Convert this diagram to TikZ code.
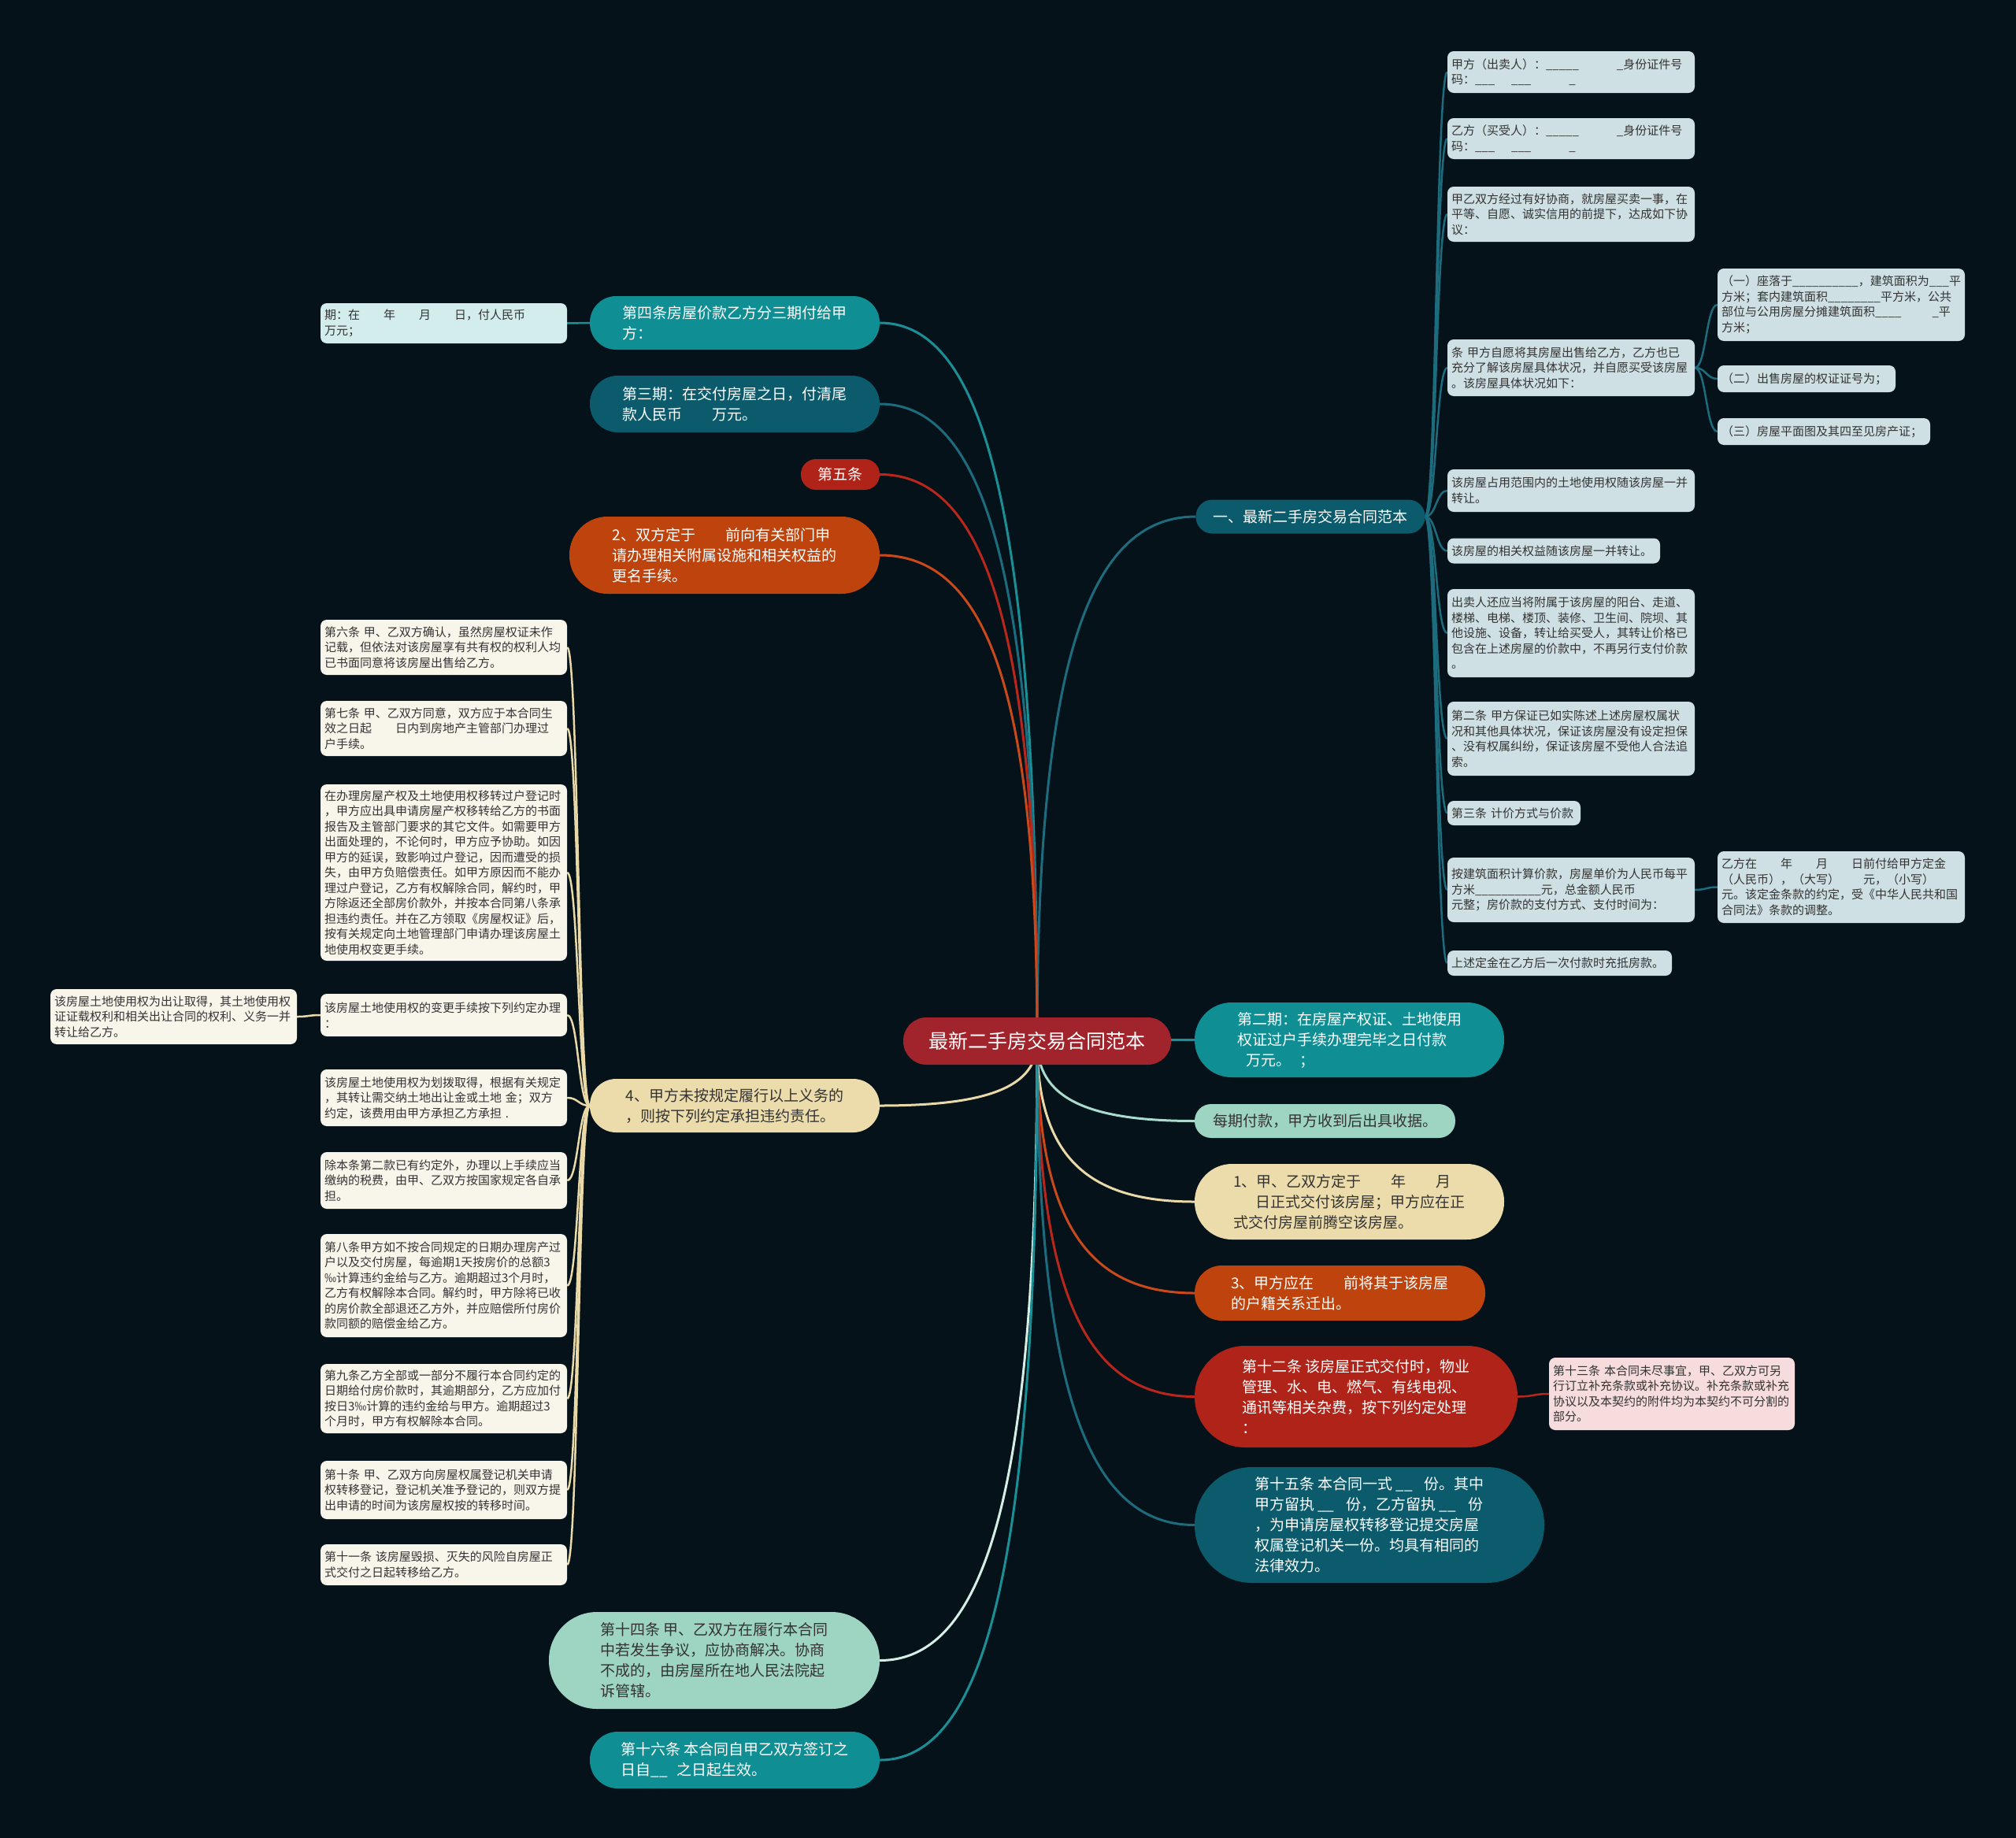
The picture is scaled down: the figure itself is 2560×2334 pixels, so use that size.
\documentclass[tikz,border=0pt]{standalone}
\usepackage{fontspec}
\setmainfont{Noto Sans CJK SC}
\usetikzlibrary{calc,backgrounds}
\definecolor{bgc}{HTML}{051219}
\definecolor{cRoot}{HTML}{A1232B}
\definecolor{cTeal}{HTML}{0F8F94}
\definecolor{cDteal}{HTML}{0C5B6C}
\definecolor{cRed}{HTML}{AF2318}
\definecolor{cOrange}{HTML}{BF430D}
\definecolor{cBeige}{HTML}{ECDCAB}
\definecolor{cMint}{HTML}{9DD4C2}
\definecolor{cLeafB}{HTML}{CFE0E4}
\definecolor{cLeafC}{HTML}{D3ECEC}
\definecolor{cLeafW}{HTML}{F8F5EB}
\definecolor{cLeafP}{HTML}{F6DCDC}
\definecolor{txtdark}{HTML}{333333}
\definecolor{eTeal}{HTML}{1A9096}
\definecolor{eDteal}{HTML}{1C6C7D}
\definecolor{eRed}{HTML}{B8261C}
\definecolor{eOrange}{HTML}{C9491A}
\definecolor{eBeige}{HTML}{E9D9A9}
\definecolor{eMint}{HTML}{A9DCCE}
\definecolor{eWhite}{HTML}{D6EFE6}
\newcommand\hgap[1]{\kern#1em\relax}
\newcommand\rootedge[2]{\draw[rootline,#1] let \p1=(root.center), \p2=(#2) in (\p1) .. controls (\x1,{\y1+0.7*((\y2)-(\y1))}) and ({\x1+0.3*((\x2)-(\x1))},\y2) .. (\p2);}
\newcommand\branchedge[3]{\draw[branchline,#1] let \p1=(#2), \p2=(#3) in (\p1) .. controls ({0.5*\x1+0.5*\x2},\y1) and ({0.5*\x1+0.5*\x2},\y2) .. (\p2);}
\begin{document}
\begin{tikzpicture}[x=1pt,y=-1pt,
  lvone/.style={inner sep=0pt, align=left, font=\fontsize{19}{26}\selectfont, text=white},
  leaf/.style={inner xsep=5pt, inner ysep=0pt, align=left, font=\fontsize{15}{19.5}\selectfont, text=txtdark, rounded corners=8pt},
  rootline/.style={line width=3pt},
  branchline/.style={line width=2.5pt}]
\useasboundingbox (0,0) rectangle (2560,2334);

% root
\node[lvone, fill=cRoot, font=\fontsize{25}{30}\selectfont, minimum width=340pt, minimum height=60pt, rounded corners=29.5pt] (root) at (1317,1322) {最新二手房交易合同范本};

% right level one
\node[lvone, fill=cDteal, minimum width=291pt, minimum height=43pt, rounded corners=21pt] (n1) at (1664,656) {一、最新二手房交易合同范本};
\node[lvone, fill=cTeal, minimum width=393pt, minimum height=95pt, rounded corners=47pt] (n2) at (1713.5,1320.5) {第二期：在房屋产权证、土地使用\\权证过户手续办理完毕之日付款\\\hgap{0.6}万元。\hgap{0.6}；};
\node[lvone, fill=cMint, text=txtdark, minimum width=331pt, minimum height=43pt, rounded corners=21pt] (n3) at (1682.5,1423.5) {每期付款，甲方收到后出具收据。};
\node[lvone, fill=cBeige, text=txtdark, minimum width=393pt, minimum height=96pt, rounded corners=47.5pt] (n4) at (1713.5,1526) {1、甲、乙双方定于\hgap{2}年\hgap{2}月\\\hgap{1.5}日正式交付该房屋；甲方应在正\\式交付房屋前腾空该房屋。};
\node[lvone, fill=cOrange, minimum width=369pt, minimum height=70pt, rounded corners=34.5pt] (n5) at (1701.5,1642) {3、甲方应在\hgap{2}前将其于该房屋\\的户籍关系迁出。};
\node[lvone, fill=cRed, minimum width=410pt, minimum height=129pt, rounded corners=64pt] (n6) at (1722,1773.5) {第十二条 该房屋正式交付时，物业\\管理、水、电、燃气、有线电视、\\通讯等相关杂费，按下列约定处理\\：};
\node[lvone, fill=cDteal, minimum width=444pt, minimum height=147pt, rounded corners=73pt] (n7) at (1739,1936.5) {第十五条 本合同一式 \_\_\hgap{0.8}份。其中\\甲方留执 \_\_\hgap{0.8}份，乙方留执 \_\_\hgap{0.8}份\\，为申请房屋权转移登记提交房屋\\权属登记机关一份。均具有相同的\\法律效力。};
\node[leaf, fill=cLeafP, text width=302pt, minimum height=92pt] (n6a) at (2123,1770) {第十三条 本合同未尽事宜，甲、乙双方可另\\行订立补充条款或补充协议。补充条款或补充\\协议以及本契约的附件均为本契约不可分割的\\部分。};

% right leaves
\node[leaf, fill=cLeafB, text width=304pt, minimum height=53pt] (r1) at (1995,91.5) {甲方（出卖人）：\_\_\_\_\_\hgap{3.2}\_身份证件号\\码：\_\_\_\hgap{1.4}\_\_\_\hgap{3.2}\_};
\node[leaf, fill=cLeafB, text width=304pt, minimum height=52pt] (r2) at (1995,176) {乙方（买受人）：\_\_\_\_\_\hgap{3.2}\_身份证件号\\码：\_\_\_\hgap{1.4}\_\_\_\hgap{3.2}\_};
\node[leaf, fill=cLeafB, text width=304pt, minimum height=70pt] (r3) at (1995,272) {甲乙双方经过有好协商，就房屋买卖一事，在\\平等、自愿、诚实信用的前提下，达成如下协\\议：};
\node[leaf, fill=cLeafB, text width=304pt, minimum height=72pt] (r4) at (1995,467) {条 甲方自愿将其房屋出售给乙方，乙方也已\\充分了解该房屋具体状况，并自愿买受该房屋\\。该房屋具体状况如下：};
\node[leaf, fill=cLeafB, text width=304pt, minimum height=92pt] (r4a) at (2338,387) {（一）座落于\_\_\_\_\_\_\_\_\_\_，建筑面积为\_\_\_平\\方米；套内建筑面积\_\_\_\_\_\_\_\_平方米，公共\\部位与公用房屋分摊建筑面积\_\_\_\_\hgap{2.6}\_平\\方米；};
\node[leaf, fill=cLeafB, text width=216pt, minimum height=34pt] (r4b) at (2294,481) {（二）出售房屋的权证证号为；};
\node[leaf, fill=cLeafB, text width=260pt, minimum height=34pt] (r4c) at (2316,548) {（三）房屋平面图及其四至见房产证；};
\node[leaf, fill=cLeafB, text width=304pt, minimum height=54pt] (r5) at (1995,623) {该房屋占用范围内的土地使用权随该房屋一并\\转让。};
\node[leaf, fill=cLeafB, text width=260pt, minimum height=32pt] (r6) at (1973,699.5) {该房屋的相关权益随该房屋一并转让。};
\node[leaf, fill=cLeafB, text width=304pt, minimum height=112pt] (r7) at (1995,804) {出卖人还应当将附属于该房屋的阳台、走道、\\楼梯、电梯、楼顶、装修、卫生间、院坝、其\\他设施、设备，转让给买受人，其转让价格已\\包含在上述房屋的价款中，不再另行支付价款\\。};
\node[leaf, fill=cLeafB, text width=304pt, minimum height=94pt] (r8) at (1995,938) {第二条 甲方保证已如实陈述上述房屋权属状\\况和其他具体状况，保证该房屋没有设定担保\\、没有权属纠纷，保证该房屋不受他人合法追\\索。};
\node[leaf, fill=cLeafB, text width=159pt, minimum height=31pt] (r9) at (1922.5,1032.5) {第三条 计价方式与价款};
\node[leaf, fill=cLeafB, text width=304pt, minimum height=82pt] (r10) at (1995,1130) {按建筑面积计算价款，房屋单价为人民币每平\\方米\_\_\_\_\_\_\_\_\_\_元，总金额人民币\\元整；房价款的支付方式、支付时间为：};
\node[leaf, fill=cLeafB, text width=304pt, minimum height=91pt] (r10a) at (2338,1126.5) {乙方在\hgap{2}年\hgap{2}月\hgap{2}日前付给甲方定金\\（人民币），（大写）\hgap{2}元，（小写）\\元。该定金条款的约定，受《中华人民共和国\\合同法》条款的调整。};
\node[leaf, fill=cLeafB, text width=275pt, minimum height=32pt] (r11) at (1980.5,1223) {上述定金在乙方后一次付款时充抵房款。};

% left level one
\node[lvone, fill=cTeal, minimum width=368pt, minimum height=68pt, rounded corners=33.5pt] (m1) at (933,410) {第四条房屋价款乙方分三期付给甲\\方：};
\node[leaf, fill=cLeafC, text width=303pt, minimum height=51pt] (m1a) at (563.5,410.5) {期：在\hgap{2}年\hgap{2}月\hgap{2}日，付人民币\\万元；};
\node[lvone, fill=cDteal, minimum width=368pt, minimum height=72pt, rounded corners=35.5pt] (m2) at (933,513) {第三期：在交付房屋之日，付清尾\\款人民币\hgap{2}万元。};
\node[lvone, fill=cRed, minimum width=100pt, minimum height=39pt, rounded corners=19pt] (m3) at (1067,602.5) {第五条};
\node[lvone, fill=cOrange, minimum width=394pt, minimum height=98pt, rounded corners=48.5pt] (m4) at (920,705) {2、双方定于\hgap{2}前向有关部门申\\请办理相关附属设施和相关权益的\\更名手续。};
\node[lvone, fill=cBeige, text=txtdark, minimum width=368pt, minimum height=68pt, rounded corners=33.5pt] (m5) at (933,1404) {4、甲方未按规定履行以上义务的\\，则按下列约定承担违约责任。};
\node[lvone, fill=cMint, text=txtdark, minimum width=420pt, minimum height=123pt, rounded corners=61pt] (m6) at (907,2108.5) {第十四条 甲、乙双方在履行本合同\\中若发生争议，应协商解决。协商\\不成的，由房屋所在地人民法院起\\诉管辖。};
\node[lvone, fill=cTeal, minimum width=368pt, minimum height=72pt, rounded corners=35.5pt] (m7) at (933,2235) {第十六条 本合同自甲乙双方签订之\\日自\_\_\hgap{0.6}之日起生效。};

% left leaves
\node[leaf, fill=cLeafW, text width=303pt, minimum height=70pt] (l1) at (563.5,822) {第六条 甲、乙双方确认，虽然房屋权证未作\\记载，但依法对该房屋享有共有权的权利人均\\已书面同意将该房屋出售给乙方。};
\node[leaf, fill=cLeafW, text width=303pt, minimum height=70pt] (l2) at (563.5,925) {第七条 甲、乙双方同意，双方应于本合同生\\效之日起\hgap{2}日内到房地产主管部门办理过\\户手续。};
\node[leaf, fill=cLeafW, text width=303pt, minimum height=224pt] (l3) at (563.5,1108) {在办理房屋产权及土地使用权移转过户登记时\\，甲方应出具申请房屋产权移转给乙方的书面\\报告及主管部门要求的其它文件。如需要甲方\\出面处理的，不论何时，甲方应予协助。如因\\甲方的延误，致影响过户登记，因而遭受的损\\失，由甲方负赔偿责任。如甲方原因而不能办\\理过户登记，乙方有权解除合同，解约时，甲\\方除返还全部房价款外，并按本合同第八条承\\担违约责任。并在乙方领取《房屋权证》后，\\按有关规定向土地管理部门申请办理该房屋土\\地使用权变更手续。};
\node[leaf, fill=cLeafW, text width=303pt, minimum height=54pt] (l4) at (563.5,1289) {该房屋土地使用权的变更手续按下列约定办理\\：};
\node[leaf, fill=cLeafW, text width=303pt, minimum height=70pt] (l4a) at (220.5,1291) {该房屋土地使用权为出让取得，其土地使用权\\证证载权利和相关出让合同的权利、义务一并\\转让给乙方。};
\node[leaf, fill=cLeafW, text width=303pt, minimum height=72pt] (l5) at (563.5,1394) {该房屋土地使用权为划拨取得，根据有关规定\\，其转让需交纳土地出让金或土地 金；双方\\约定，该费用由甲方承担乙方承担 .};
\node[leaf, fill=cLeafW, text width=303pt, minimum height=72pt] (l6) at (563.5,1499) {除本条第二款已有约定外，办理以上手续应当\\缴纳的税费，由甲、乙双方按国家规定各自承\\担。};
\node[leaf, fill=cLeafW, text width=303pt, minimum height=131pt] (l7) at (563.5,1632.5) {第八条甲方如不按合同规定的日期办理房产过\\户以及交付房屋，每逾期1天按房价的总额3\\‰计算违约金给与乙方。逾期超过3个月时，\\乙方有权解除本合同。解约时，甲方除将已收\\的房价款全部退还乙方外，并应赔偿所付房价\\款同额的赔偿金给乙方。};
\node[leaf, fill=cLeafW, text width=303pt, minimum height=88pt] (l8) at (563.5,1776) {第九条乙方全部或一部分不履行本合同约定的\\日期给付房价款时，其逾期部分，乙方应加付\\按日3‰计算的违约金给与甲方。逾期超过3\\个月时，甲方有权解除本合同。};
\node[leaf, fill=cLeafW, text width=303pt, minimum height=74pt] (l9) at (563.5,1892) {第十条 甲、乙双方向房屋权属登记机关申请\\权转移登记，登记机关准予登记的，则双方提\\出申请的时间为该房屋权按的转移时间。};
\node[leaf, fill=cLeafW, text width=303pt, minimum height=52pt] (l10) at (563.5,1987) {第十一条 该房屋毁损、灭失的风险自房屋正\\式交付之日起转移给乙方。};

\begin{scope}[on background layer]
\fill[bgc] (0,0) rectangle (2560,2334);
% root edges
\rootedge{eDteal}{n1.west}
\rootedge{eTeal}{n2.west}
\rootedge{eMint}{n3.west}
\rootedge{eBeige}{n4.west}
\rootedge{eOrange}{n5.west}
\rootedge{eRed}{n6.west}
\rootedge{eDteal}{n7.west}
\rootedge{eTeal}{m1.east}
\rootedge{eDteal}{m2.east}
\rootedge{eRed}{m3.east}
\rootedge{eOrange}{m4.east}
\rootedge{eBeige}{m5.east}
\rootedge{eWhite}{m6.east}
\rootedge{eTeal}{m7.east}
% branch edges
\branchedge{eDteal}{n1.east}{r1.west}
\branchedge{eDteal}{n1.east}{r2.west}
\branchedge{eDteal}{n1.east}{r3.west}
\branchedge{eDteal}{n1.east}{r4.west}
\branchedge{eDteal}{n1.east}{r5.west}
\branchedge{eDteal}{n1.east}{r6.west}
\branchedge{eDteal}{n1.east}{r7.west}
\branchedge{eDteal}{n1.east}{r8.west}
\branchedge{eDteal}{n1.east}{r9.west}
\branchedge{eDteal}{n1.east}{r10.west}
\branchedge{eDteal}{n1.east}{r11.west}
\branchedge{eDteal}{r4.east}{r4a.west}
\branchedge{eDteal}{r4.east}{r4b.west}
\branchedge{eDteal}{r4.east}{r4c.west}
\branchedge{eDteal}{r10.east}{r10a.west}
\branchedge{eRed}{n6.east}{n6a.west}
\branchedge{eTeal}{m1.west}{m1a.east}
\branchedge{eBeige}{m5.west}{l1.east}
\branchedge{eBeige}{m5.west}{l2.east}
\branchedge{eBeige}{m5.west}{l3.east}
\branchedge{eBeige}{m5.west}{l4.east}
\branchedge{eBeige}{m5.west}{l5.east}
\branchedge{eBeige}{m5.west}{l6.east}
\branchedge{eBeige}{m5.west}{l7.east}
\branchedge{eBeige}{m5.west}{l8.east}
\branchedge{eBeige}{m5.west}{l9.east}
\branchedge{eBeige}{m5.west}{l10.east}
\branchedge{eBeige}{l4.west}{l4a.east}
\end{scope}
\end{tikzpicture}
\end{document}
